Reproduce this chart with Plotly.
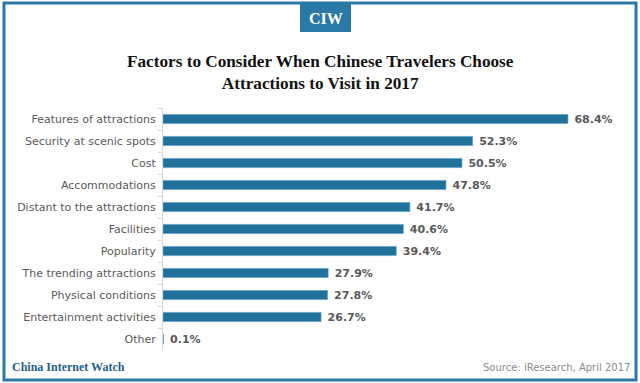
import plotly.graph_objects as go

categories = ["Features of attractions", "Security at scenic spots", "Cost", "Accommodations",
              "Distant to the attractions", "Facilities", "Popularity", "The trending attractions",
              "Physical conditions", "Entertainment activities", "Other"]
values = [68.4, 52.3, 50.5, 47.8, 41.7, 40.6, 39.4, 27.9, 27.8, 26.7, 0.1]
labels = [f"\u00a0<b>{v:.1f}%</b>" for v in values]

W, H = 640, 383
BLUE = "#21729b"

fig = go.Figure(go.Bar(
    x=values, y=categories, orientation="h",
    marker=dict(color=BLUE, line=dict(color="#5fa0c4", width=0.6)),
    width=0.42,
    text=labels, textposition="outside", cliponaxis=False, constraintext="none",
    textfont=dict(family="DejaVu Sans", size=11, color="#595959"),
    hoverinfo="skip",
))

x0, x1 = 163, 620
y_top, y_bot = 108, 350
fig.update_layout(
    width=W, height=H, margin=dict(l=0, r=0, t=0, b=0),
    paper_bgcolor="white", plot_bgcolor="white", showlegend=False,
    xaxis=dict(domain=[x0 / W, x1 / W], range=[0, (x1 - x0) / 5.92], visible=False),
    yaxis=dict(domain=[(H - y_bot) / H, (H - y_top) / H], autorange="reversed",
               categoryorder="array", categoryarray=categories,
               showline=True, linecolor="#d9d9d9", linewidth=1,
               ticks="outside", tickson="boundaries", ticklen=4, tickcolor="#d9d9d9",
               ticklabelstandoff=4,
               tickfont=dict(family="DejaVu Sans", size=11, color="#595959"),
               showgrid=False, zeroline=False),
    shapes=[
        dict(type="rect", xref="paper", yref="paper", x0=4 / W, x1=636 / W, y0=(H - 380) / H, y1=(H - 3) / H,
             line=dict(color="#2a78a4", width=3), fillcolor="rgba(0,0,0,0)"),
        dict(type="rect", xref="paper", yref="paper", x0=300 / W, x1=351 / W, y0=(H - 32) / H, y1=(H - 4) / H,
             line=dict(width=0), fillcolor="#2a78a4"),
    ],
    annotations=[
        dict(text="<b>CIW</b>", x=325.5 / W, y=(H - 18) / H, xref="paper", yref="paper",
             xanchor="center", yanchor="middle",
             showarrow=False, font=dict(family="Liberation Serif", size=16, color="white")),
        dict(text="<b>Factors to Consider When Chinese Travelers Choose<br>Attractions to Visit in 2017</b>",
             x=320 / W, y=(H - 73) / H, xref="paper", yref="paper", showarrow=False,
             xanchor="center", yanchor="middle",
             font=dict(family="Liberation Serif", size=17.2, color="#111111"), align="center"),
        dict(text="<b>China Internet Watch</b>", x=10 / W, y=(H - 367) / H, xref="paper", yref="paper",
             xanchor="left", yanchor="middle", showarrow=False,
             font=dict(family="Liberation Serif", size=12, color="#1f5f8b")),
        dict(text="Source: iResearch, April 2017", x=632 / W, y=(H - 367) / H, xref="paper", yref="paper",
             xanchor="right", yanchor="middle", showarrow=False,
             font=dict(family="DejaVu Sans", size=10, color="#8c8c8c")),
    ],
)

fig.write_html("out.html", config={"displayModeBar": False},
               post_script="document.body.style.margin='0';")
